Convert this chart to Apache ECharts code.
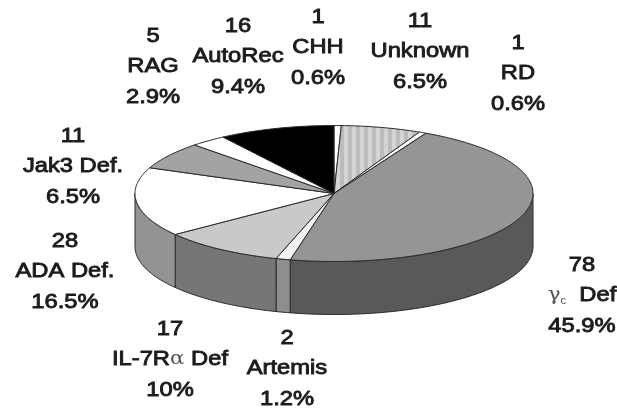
<!DOCTYPE html>
<html>
<head>
<meta charset="utf-8">
<title>SCID genotypes</title>
<style>
  html, body { margin: 0; padding: 0; background: #fff; }
  #main { width: 617px; height: 410px; filter: blur(0.7px); }
</style>
<script src="https://cdn.jsdelivr.net/npm/echarts@6/dist/echarts.min.js"></script>
</head>
<body>
<div id="main"></div>
<script>
// clockwise from 12 o'clock
var names = ['CHH', 'Unknown', 'RD', '\u03b3c Def', 'Artemis', 'IL-7R\u03b1 Def', 'ADA Def.', 'Jak3 Def.', 'RAG', 'AutoRec'];
var counts = [1, 11, 1, 78, 2, 17, 28, 11, 5, 16];
var percents = ['0.6%', '6.5%', '0.6%', '45.9%', '1.2%', '10%', '16.5%', '6.5%', '2.9%', '9.4%'];

var topColors = ['#ffffff', '#c4c4c4', '#ffffff', '#959595', '#f2f2f2', '#c9c9c9', '#ffffff', '#a3a3a3', '#ffffff', '#000000'];
var sideColors = ['#888888', '#888888', '#888888', '#595959', '#8e8e8e', '#767676', '#939393', '#777777', '#888888', '#222222'];

var cx = 334, cy = 193.5, rx = 199, ry = 68, depth = 53;
var total = counts.reduce(function (a, b) { return a + b; }, 0);

// label centre for each slice, first line y
var labelPos = [
  [318, 17], [420, 21], [518, 43], [582, 265], [287, 338],
  [170, 329], [65, 241], [73, 136], [153, 36], [238, 26]
];
var lineGap = 30.5;

function stripes() {
  var c = document.createElement('canvas');
  c.width = 8; c.height = 8;
  var ctx = c.getContext('2d');
  ctx.fillStyle = '#bcbcbc';
  ctx.fillRect(0, 0, 8, 8);
  ctx.fillStyle = '#d4d4d4';
  ctx.fillRect(0, 0, 4, 8);
  return c;
}
var stripePattern = { image: stripes(), repeat: 'repeat' };

function rimPoint(deg, dy) {
  var a = deg * Math.PI / 180;
  return [cx + rx * Math.sin(a), cy - ry * Math.cos(a) + (dy || 0)];
}

function arc(from, to, dy) {
  var pts = [], n = Math.max(2, Math.ceil(Math.abs(to - from)));
  for (var i = 0; i <= n; i++) {
    pts.push(rimPoint(from + (to - from) * i / n, dy));
  }
  return pts;
}

function renderSlice(params, api) {
  var i = params.dataIndex;
  var before = 0;
  for (var k = 0; k < i; k++) before += counts[k];
  var start = before / total * 360;
  var end = (before + api.value(0)) / total * 360;
  var children = [];

  // rim is only visible on the front half
  var s = Math.max(start, 90), e = Math.min(end, 270);
  if (e > s) {
    children.push({
      type: 'polygon',
      shape: { points: arc(s, e, 0).concat(arc(e, s, depth)) },
      style: { fill: sideColors[i], stroke: '#2a2a2a', lineWidth: 1, lineJoin: 'round' }
    });
  }
  children.push({
    type: 'polygon',
    shape: { points: [[cx, cy]].concat(arc(start, end, 0)) },
    style: {
      fill: i === 1 ? stripePattern : topColors[i],
      stroke: '#2a2a2a', lineWidth: 1, lineJoin: 'round'
    }
  });
  return { type: 'group', children: children };
}

var font = { fontFamily: 'Liberation Sans', fontSize: 21, fontWeight: 'normal', fill: '#1c1c1c', stroke: '#1c1c1c', lineWidth: 0.9 };
function tok(o) {
  var t = {};
  for (var k in font) t[k] = font[k];
  for (var j in o) t[j] = o[j];
  return t;
}
var rich = {
  b: tok({}),
  g: tok({ fontFamily: 'DejaVu Serif', fontSize: 19, fill: '#555', lineWidth: 0 }),
  s: tok({ fontSize: 10, fill: '#555', lineWidth: 0, verticalAlign: 'bottom', padding: [8, 0, 0, 0] })
};

function nameText(n) {
  if (n.indexOf('\u03b3') === 0) return '{g|\u03b3}{s|c}{b|  Def}';
  if (n.indexOf('\u03b1') > 0) return '{b|IL-7R}{g|\u03b1}{b| Def}';
  return '{b|' + n + '}';
}

var labels = [];
names.forEach(function (n, i) {
  var lines = ['{b|' + counts[i] + '}', nameText(n), '{b|' + percents[i] + '}'];
  lines.forEach(function (t, j) {
    labels.push({
      type: 'text',
      x: labelPos[i][0],
      y: labelPos[i][1] + j * lineGap,
      scaleX: 1.13,
      silent: true,
      style: { text: t, rich: rich, align: 'center', verticalAlign: 'middle' }
    });
  });
});

var myChart = echarts.init(document.getElementById('main'));
myChart.setOption({
  animation: false,
  backgroundColor: '#fff',
  series: [{
    type: 'custom',
    coordinateSystem: 'none',
    renderItem: renderSlice,
    data: counts,
    silent: true
  }],
  graphic: labels
});
</script>
</body>
</html>
